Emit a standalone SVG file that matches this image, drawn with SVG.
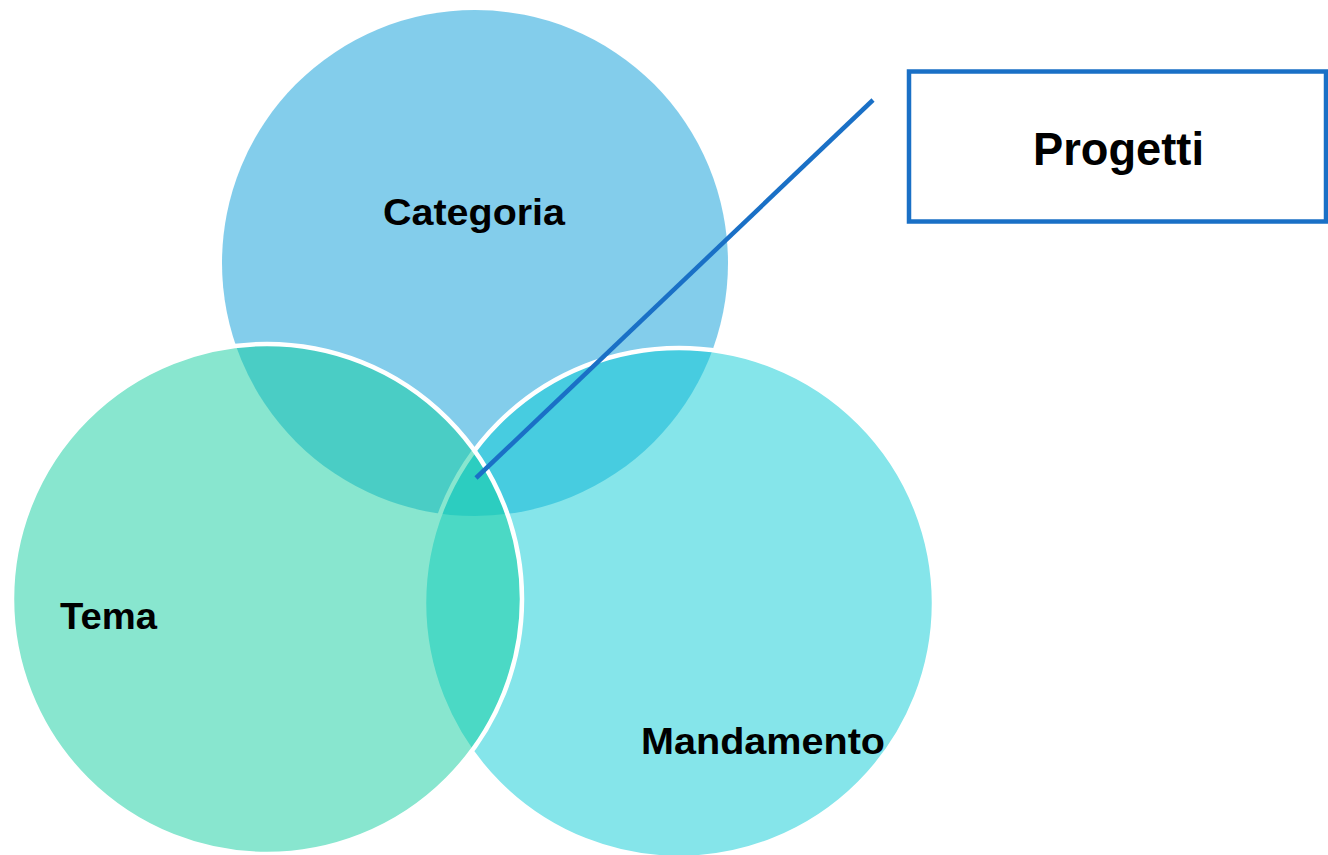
<svg xmlns="http://www.w3.org/2000/svg" width="1328" height="855" viewBox="0 0 1328 855">
  <style>
    .lbl { font-family: "Liberation Sans", Arial, sans-serif; font-weight: bold; fill: #000000; }
    .set { fill-opacity: 0.5; }
    .edge { stroke: #ffffff; stroke-width: 4.5; }
  </style>
  <rect width="1328" height="855" fill="#ffffff"/>
  <g id="categoria">
    <circle class="set" cx="475" cy="263" r="253" fill="#079BD7"/>
  </g>
  <g id="mandamento">
    <circle class="set edge" cx="679" cy="603" r="255" fill="#0BCBD5"/>
  </g>
  <g id="tema">
    <circle class="set edge" cx="267" cy="599" r="255" fill="#11CD9F"/>
  </g>
  <g id="labels">
    <text class="lbl" x="383" y="225" font-size="37" textLength="182" lengthAdjust="spacingAndGlyphs">Categoria</text>
    <text class="lbl" x="60" y="629" font-size="37" textLength="97" lengthAdjust="spacingAndGlyphs">Tema</text>
    <text class="lbl" x="641" y="754" font-size="37" textLength="244" lengthAdjust="spacingAndGlyphs">Mandamento</text>
  </g>
  <g id="connectors">
    <line x1="476" y1="478" x2="873" y2="100" stroke="#1A70C6" stroke-width="4.5"/>
  </g>
  <g id="progetti">
    <rect x="909" y="71.5" width="417" height="150" fill="#ffffff" stroke="#1A70C6" stroke-width="4.5"/>
    <text class="lbl" x="1033" y="165" font-size="47" textLength="171" lengthAdjust="spacingAndGlyphs">Progetti</text>
  </g>
</svg>
